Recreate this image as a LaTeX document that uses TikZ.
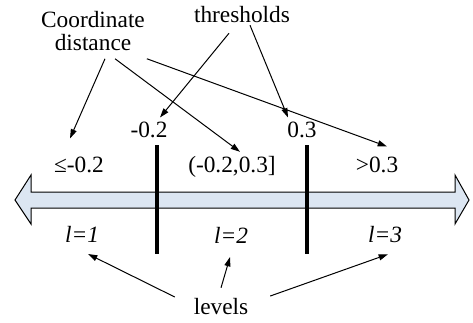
\documentclass[tikz,border=0pt]{standalone}
\usepackage{fontspec}
\setmainfont{Liberation Serif}
\usepackage{tikz}
\usetikzlibrary{arrows.meta,calc}
\definecolor{axisfill}{RGB}{220,230,242}

\begin{document}
\begin{tikzpicture}[
    x=0.75pt, y=-0.75pt,
    lbl/.style={inner sep=0pt, outer sep=0pt, font=\fontsize{17.5}{17.5}\selectfont},
    lvl/.style={lbl, font=\fontsize{17.5}{17.5}\selectfont\itshape},
    pointer/.style={-{Triangle[length=7pt,width=4.5pt]}, line width=0.75pt},
    bar/.style={line width=3pt},
    axis/.style={draw, line width=0.75pt, fill=axisfill}
]
\useasboundingbox (0,0) rectangle (473,322);

\draw[axis] (15,200) -- (31,175) -- (31,192) -- (455,192) -- (455,175) -- (469,200) -- (455,224) -- (455,208) -- (31,208) -- (31,224) -- cycle;
\draw[bar] (157,145) -- (157,254);
\draw[bar] (307,145) -- (307,254);

\node[lbl, align=center, anchor=north] (cd) at (93,11) {Coordinate\\distance};
\node[lbl, anchor=base] (th) at (242,22) {thresholds};
\node[lbl, anchor=base] (lo) at (149,137) {-0.2};
\node[lbl, anchor=base] (hi) at (302,137) {0.3};
\node[lbl, anchor=base] (r1) at (79,172) {≤-0.2};
\node[lbl, anchor=base] (r2) at (232,172) {(-0.2,0.3]};
\node[lbl, anchor=base] (r3) at (377,172) {>0.3};
\node[lvl, anchor=base] (l1) at (82,242) {l=1};
\node[lvl, anchor=base] (l2) at (231,243) {l=2};
\node[lvl, anchor=base] (l3) at (385,242) {l=3};
\node[lbl, anchor=base] (lv) at (221,314) {levels};

\draw[pointer] ($(cd.south)+(12,8)$) -- ($(r1.north)+(-9,-18)$);
\draw[pointer] ($(cd.south)+(22,8)$) -- ($(r2.north)+(8,-4)$);
\draw[pointer] ($(cd.south east)+(2,8)$) -- ($(r3.north)+(10,-10)$);
\draw[pointer] ($(th.south)+(-13,11)$) -- ($(lo.north)+(11,-4)$);
\draw[pointer] ($(th.south)+(8,3)$) -- ($(hi.north)+(-14,-4)$);
\draw[pointer] ($(lv.west)+(-19,-9)$) -- ($(l1.south)+(6,12)$);
\draw[pointer] ($(lv.north)+(0,-10)$) -- ($(l2.south)+(-1,14)$);
\draw[pointer] ($(lv.east)+(22,-10)$) -- ($(l3.south)+(3,12)$);
\end{tikzpicture}
\end{document}
